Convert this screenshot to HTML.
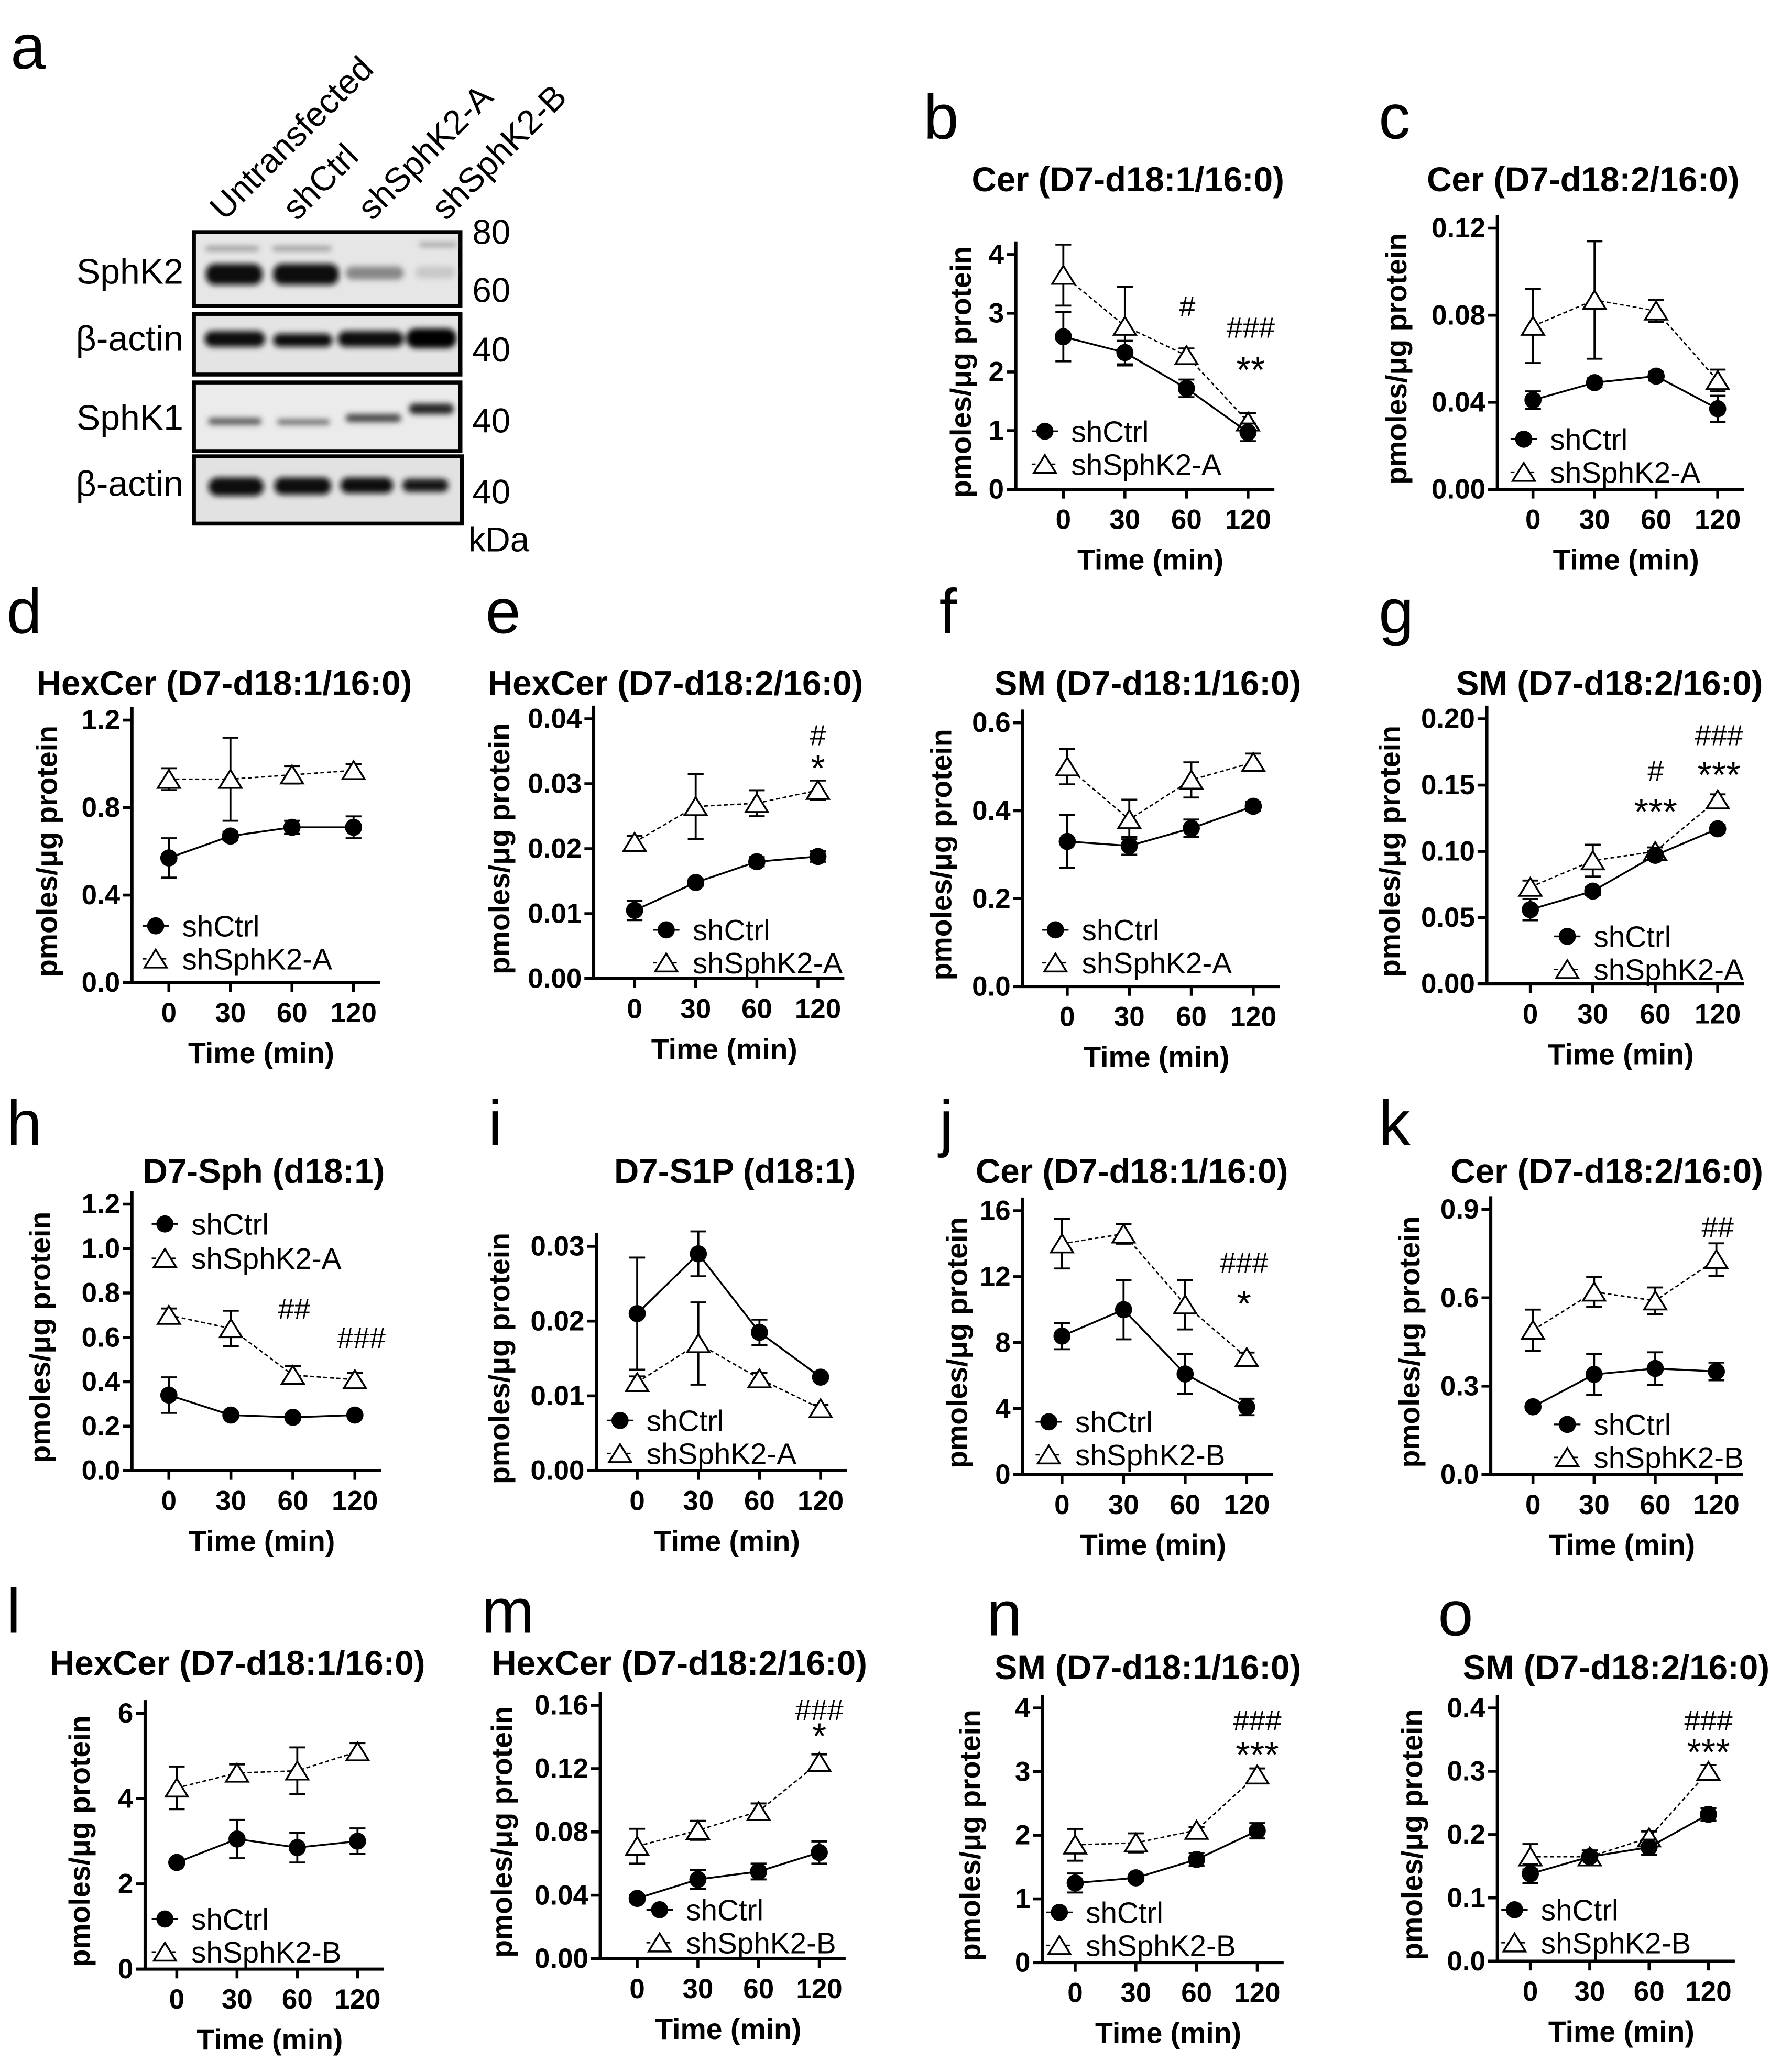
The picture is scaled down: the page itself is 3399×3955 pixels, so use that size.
<!DOCTYPE html>
<html><head><meta charset="utf-8"><style>
html,body{margin:0;padding:0;background:#fff}
svg{display:block}
text{font-family:"Liberation Sans",Arial,sans-serif;fill:#000}
.b{font-weight:bold}
</style></head><body>
<svg id="fig" xmlns="http://www.w3.org/2000/svg" width="3399" height="3955" viewBox="0 0 1350 1571" preserveAspectRatio="none">
<defs>
<filter id="blur" x="-20%" y="-100%" width="140%" height="300%"><feGaussianBlur stdDeviation="2.2"/></filter>
</defs>
<g id="blot">
<text x="8" y="52" font-size="48">a</text>
<g font-size="26">
<text transform="translate(170,168) rotate(-45)">Untransfected</text>
<text transform="translate(225,168) rotate(-45)">shCtrl</text>
<text transform="translate(282,168) rotate(-45)">shSphK2-A</text>
<text transform="translate(338,168) rotate(-45)">shSphK2-B</text>
</g>
<g>
<rect x="147" y="176" width="202" height="56" fill="#e6e6e6" stroke="#000" stroke-width="3"/>
<g filter="url(#blur)">
<rect x="156" y="200" width="43" height="16" rx="7" fill="#111"/>
<rect x="207" y="200" width="50" height="16" rx="7" fill="#111"/>
<rect x="262" y="202" width="44" height="10" rx="5" fill="#888"/>
<rect x="315" y="202" width="30" height="9" rx="4" fill="#c8c8c8"/>
<rect x="156" y="187" width="40" height="3" fill="#888"/>
<rect x="207" y="187" width="44" height="3" fill="#888"/>
<rect x="318" y="184" width="28" height="3" fill="#999"/>
</g></g>
<g>
<rect x="147" y="238" width="202" height="46" fill="#e4e4e4" stroke="#000" stroke-width="3"/>
<g filter="url(#blur)">
<rect x="155" y="251" width="46" height="12" rx="6" fill="#111"/>
<rect x="207" y="253" width="45" height="10" rx="5" fill="#111"/>
<rect x="256" y="251" width="50" height="12" rx="6" fill="#111"/>
<rect x="308" y="249" width="38" height="15" rx="7" fill="#000"/>
</g></g>
<g>
<rect x="147" y="290" width="202" height="52" fill="#ebebeb" stroke="#000" stroke-width="3"/>
<g filter="url(#blur)">
<rect x="158" y="317" width="40" height="5" rx="2" fill="#555"/>
<rect x="210" y="318" width="40" height="4" rx="2" fill="#666"/>
<rect x="262" y="314" width="42" height="6" rx="3" fill="#444"/>
<rect x="310" y="306" width="34" height="8" rx="4" fill="#222"/>
</g></g>
<g>
<rect x="147" y="346" width="203" height="51" fill="#e2e2e2" stroke="#000" stroke-width="3"/>
<g filter="url(#blur)">
<rect x="158" y="362" width="42" height="14" rx="7" fill="#111"/>
<rect x="208" y="362" width="43" height="13" rx="6" fill="#111"/>
<rect x="258" y="362" width="40" height="12" rx="6" fill="#111"/>
<rect x="305" y="363" width="35" height="10" rx="5" fill="#151515"/>
</g></g>
<g font-size="27" text-anchor="end">
<text x="139" y="215">SphK2</text>
<text x="139" y="266">β-actin</text>
<text x="139" y="326">SphK1</text>
<text x="139" y="376">β-actin</text>
</g>
<g font-size="26">
<text x="358" y="185">80</text>
<text x="358" y="229">60</text>
<text x="358" y="274">40</text>
<text x="358" y="328">40</text>
<text x="358" y="382">40</text>
<text x="355" y="418">kDa</text>
</g>
</g>
<g id="charts"></g>
</svg>
<script>
const timeCats = ["0","30","60","120"];
const bCtrl=[2.6,2.33,1.72,0.97], bCtrlErr=[0.42,0.2,0.15,0.15], bA=[3.65,2.78,2.28,1.15], bAErr=[0.52,0.67,0.12,0.15];
const cCtrl=[0.041,0.049,0.052,0.037], cCtrlErr=[0.004,0.002,0.002,0.006], cA=[0.075,0.087,0.082,0.05], cAErr=[0.017,0.027,0.005,0.005];
const dCtrl=[0.57,0.67,0.71,0.71], dCtrlErr=[0.09,0.02,0.03,0.05], dA=[0.93,0.93,0.95,0.97], dAErr=[0.05,0.19,0.04,0.03];
const eCtrl=[0.0105,0.0148,0.018,0.0188], eCtrlErr=[0.0015,0.0005,0.0007,0.0008], eA=[0.021,0.0265,0.027,0.029], eAErr=[0.001,0.005,0.002,0.0015];
const fCtrl=[0.33,0.32,0.36,0.41], fCtrlErr=[0.06,0.02,0.02,0.01], fA=[0.5,0.38,0.47,0.51], fAErr=[0.04,0.045,0.04,0.02];
const gCtrl=[0.056,0.07,0.097,0.117], gCtrlErr=[0.008,0.003,0.003,0.003], gA=[0.073,0.093,0.1,0.139], gAErr=[0.005,0.012,0.003,0.004];
const hCtrl=[0.34,0.25,0.24,0.25], hCtrlErr=[0.08,0.01,0.01,0.01], hA=[0.7,0.64,0.43,0.41], hAErr=[0.03,0.08,0.04,0.03];
const iCtrl=[0.021,0.029,0.0185,0.0125], iCtrlErr=[0.0075,0.003,0.0017,0.0005], iA=[0.0118,0.017,0.0123,0.0083], iAErr=[0.0008,0.0055,0.0008,0.0005];
const jCtrl=[8.4,10,6.1,4.1], jCtrlErr=[0.8,1.8,1.2,0.5], jA=[14,14.6,10.3,7.1], jAErr=[1.5,0.6,1.5,0.3];
const kCtrl=[0.23,0.34,0.36,0.35], kCtrlErr=[0.01,0.07,0.055,0.03], kA=[0.49,0.62,0.59,0.73], kAErr=[0.07,0.05,0.045,0.055];
const lCtrl=[2.5,3.05,2.85,3], lCtrlErr=[0.05,0.45,0.35,0.3], lA=[4.25,4.6,4.65,5.1], lAErr=[0.5,0.2,0.55,0.2];
const mCtrl=[0.038,0.05,0.055,0.067], mCtrlErr=[0.002,0.006,0.005,0.007], mA=[0.071,0.081,0.093,0.124], mAErr=[0.011,0.006,0.005,0.005];
const nCtrl=[1.25,1.33,1.62,2.07], nCtrlErr=[0.15,0.05,0.1,0.12], nA=[1.85,1.88,2.08,2.95], nAErr=[0.25,0.15,0.05,0.1];
const oCtrl=[0.138,0.165,0.18,0.232], oCtrlErr=[0.015,0.005,0.012,0.01], oA=[0.165,0.165,0.195,0.3], oAErr=[0.02,0.01,0.01,0.01];
const bTicks=["0","1","2","3","4"], cTicks=["0.00","0.04","0.08","0.12"], dTicks=["0.0","0.4","0.8","1.2"];
const eTicks=["0.00","0.01","0.02","0.03","0.04"], fTicks=["0.0","0.2","0.4","0.6"], gTicks=["0.00","0.05","0.10","0.15","0.20"];
const hTicks=["0.0","0.2","0.4","0.6","0.8","1.0","1.2"], iTicks=["0.00","0.01","0.02","0.03"], jTicks=["0","4","8","12","16"];
const kTicks=["0.0","0.3","0.6","0.9"], lTicks=["0","2","4","6"], mTicks=["0.00","0.04","0.08","0.12","0.16"];
const nTicks=["0","1","2","3","4"], oTicks=["0.0","0.1","0.2","0.3","0.4"];

const panels=[
{id:"b",title:"Cer (D7-d18:1/16:0)",lx:700,ly:105,ax:770,y0:371,yt:193,ticks:bTicks,xs:806,xe:946,tcx:855,tty:145,ylx:738,ctrl:bCtrl,ce:bCtrlErr,a:bA,ae:bAErr,lg:[792,327],b2:"shSphK2-A",ann:[["#",900,240],["###",948,256],["**",948,290]]},
{id:"c",title:"Cer (D7-d18:2/16:0)",lx:1045,ly:105,ax:1135,y0:371,yt:173,ticks:cTicks,xs:1162,xe:1302,tcx:1200,tty:145,ylx:1068,ctrl:cCtrl,ce:cCtrlErr,a:cA,ae:cAErr,lg:[1155,333],b2:"shSphK2-A",ann:[]},
{id:"d",title:"HexCer (D7-d18:1/16:0)",lx:5,ly:480,ax:100,y0:745,yt:546,ticks:dTicks,xs:128,xe:268,tcx:170,tty:527,ylx:45,ctrl:dCtrl,ce:dCtrlErr,a:dA,ae:dAErr,lg:[118,702],b2:"shSphK2-A",ann:[]},
{id:"e",title:"HexCer (D7-d18:2/16:0)",lx:368,ly:480,ax:450,y0:742,yt:545,ticks:eTicks,xs:481,xe:620,tcx:512,tty:527,ylx:388,ctrl:eCtrl,ce:eCtrlErr,a:eA,ae:eAErr,lg:[505,705],b2:"shSphK2-A",ann:[["#",620,565],["*",620,592]]},
{id:"f",title:"SM (D7-d18:1/16:0)",lx:712,ly:480,ax:775,y0:748,yt:548,ticks:fTicks,xs:809,xe:950,tcx:870,tty:527,ylx:723,ctrl:fCtrl,ce:fCtrlErr,a:fA,ae:fAErr,lg:[800,705],b2:"shSphK2-A",ann:[]},
{id:"g",title:"SM (D7-d18:2/16:0)",lx:1045,ly:480,ax:1127,y0:746,yt:545,ticks:gTicks,xs:1160,xe:1302,tcx:1220,tty:527,ylx:1063,ctrl:gCtrl,ce:gCtrlErr,a:gA,ae:gAErr,lg:[1188,710],b2:"shSphK2-A",ann:[["#",1255,592],["***",1255,625],["###",1303,565],["***",1303,597]]},
{id:"h",title:"D7-Sph (d18:1)",lx:5,ly:868,ax:100,y0:1115,yt:913,ticks:hTicks,xs:128,xe:269,tcx:200,tty:897,ylx:40,ctrl:hCtrl,ce:hCtrlErr,a:hA,ae:hAErr,lg:[125,928],b2:"shSphK2-A",ann:[["##",223,1000],["###",274,1022]]},
{id:"i",title:"D7-S1P (d18:1)",lx:370,ly:868,ax:452,y0:1115,yt:945,ticks:iTicks,xs:483,xe:622,tcx:557,tty:897,ylx:388,ctrl:iCtrl,ce:iCtrlErr,a:iA,ae:iAErr,lg:[470,1077],b2:"shSphK2-A",ann:[]},
{id:"j",title:"Cer (D7-d18:1/16:0)",lx:712,ly:868,ax:775,y0:1118,yt:918,ticks:jTicks,xs:805,xe:945,tcx:858,tty:897,ylx:735,ctrl:jCtrl,ce:jCtrlErr,a:jA,ae:jAErr,lg:[795,1078],b2:"shSphK2-B",ann:[["###",943,965],["*",943,998]]},
{id:"k",title:"Cer (D7-d18:2/16:0)",lx:1045,ly:868,ax:1130,y0:1118,yt:917,ticks:kTicks,xs:1162,xe:1301,tcx:1218,tty:897,ylx:1078,ctrl:kCtrl,ce:kCtrlErr,a:kA,ae:kAErr,lg:[1188,1080],b2:"shSphK2-B",ann:[["##",1302,938]]},
{id:"l",title:"HexCer (D7-d18:1/16:0)",lx:5,ly:1238,ax:110,y0:1493,yt:1299,ticks:lTicks,xs:134,xe:271,tcx:180,tty:1270,ylx:70,ctrl:lCtrl,ce:lCtrlErr,a:lA,ae:lAErr,lg:[125,1455],b2:"shSphK2-B",ann:[]},
{id:"m",title:"HexCer (D7-d18:2/16:0)",lx:365,ly:1238,ax:455,y0:1485,yt:1293,ticks:mTicks,xs:483,xe:621,tcx:515,tty:1270,ylx:390,ctrl:mCtrl,ce:mCtrlErr,a:mA,ae:mAErr,lg:[500,1448],b2:"shSphK2-B",ann:[["###",621,1304],["*",621,1326]]},
{id:"n",title:"SM (D7-d18:1/16:0)",lx:748,ly:1240,ax:790,y0:1488,yt:1295,ticks:nTicks,xs:815,xe:953,tcx:870,tty:1273,ylx:745,ctrl:nCtrl,ce:nCtrlErr,a:nA,ae:nAErr,lg:[803,1450],b2:"shSphK2-B",ann:[["###",953,1312],["***",953,1340]]},
{id:"o",title:"SM (D7-d18:2/16:0)",lx:1090,ly:1240,ax:1135,y0:1487,yt:1295,ticks:oTicks,xs:1160,xe:1295,tcx:1225,tty:1273,ylx:1080,ctrl:oCtrl,ce:oCtrlErr,a:oA,ae:oAErr,lg:[1148,1448],b2:"shSphK2-B",ann:[["###",1295,1312],["***",1295,1338]]}
];
const NS="http://www.w3.org/2000/svg";
const root=document.getElementById("charts");
function mk(tag,attrs,parent){const e=document.createElementNS(NS,tag);for(const k in attrs)e.setAttribute(k,attrs[k]);parent.appendChild(e);return e;}
function tri(g,x,y,s){return mk("polygon",{points:`${x},${y-s} ${x-s*1.05},${y+s*0.7} ${x+s*1.05},${y+s*0.7}`,fill:"#fff",stroke:"#000","stroke-width":1.4},g);}
panels.forEach(p=>{
  const g=mk("g",{},root);
  
  
  const tv=p.ticks.map(Number), tmax=tv[tv.length-1];
  const yS=v=>p.y0-(v/tmax)*(p.y0-p.yt);
  const step=(p.xe-p.xs)/(timeCats.length-1);
  const xS=i=>p.xs+i*step;
  const L=mk("text",{x:p.lx,y:p.ly,"font-size":48},g); L.textContent=p.id;
   
  const T=mk("text",{x:p.tcx,y:p.tty,"font-size":26,"text-anchor":"middle",class:"b"},g); T.textContent=p.title;
   
  const top=p.yt-10, right=p.xe+20;
  const ya=mk("line",{x1:p.ax,y1:top,x2:p.ax,y2:p.y0,stroke:"#000","stroke-width":2.4},g);
   
  const xa=mk("line",{x1:p.ax-7,y1:p.y0,x2:right,y2:p.y0,stroke:"#000","stroke-width":2.4},g);
   
  p.ticks.forEach((t,k)=>{const y=yS(tv[k]);
    mk("line",{x1:p.ax-7,y1:y,x2:p.ax,y2:y,stroke:"#000","stroke-width":2.2},g);
    const tl=mk("text",{x:p.ax-9,y:y+7,"font-size":21,"text-anchor":"end",class:"b"},g); tl.textContent=t;
     });
  timeCats.forEach((c,i)=>{const x=xS(i);
    mk("line",{x1:x,y1:p.y0,x2:x,y2:p.y0+7,stroke:"#000","stroke-width":2.2},g);
    const tl=mk("text",{x:x,y:p.y0+30,"font-size":21,"text-anchor":"middle",class:"b"},g); tl.textContent=c;
     });
  const xt=mk("text",{x:(p.ax+right)/2+4,y:p.y0+61,"font-size":22,"text-anchor":"middle",class:"b"},g); xt.textContent="Time (min)";
   
  const ymid=(p.y0+p.yt)/2;
  const yt=mk("text",{x:p.ylx-2,y:ymid,"font-size":22,"text-anchor":"middle",class:"b",transform:`rotate(-90 ${p.ylx-2} ${ymid})`},g); yt.textContent="pmoles/\u03bcg protein";
   
  [[p.a,p.ae,"A"],[p.ctrl,p.ce,"C"]].forEach(([vals,errs,kind])=>{
    const sg=mk("g",{},g);
    
    
    const pts=vals.map((v,i)=>xS(i)+","+yS(v)).join(" ");
    const ln=mk("polyline",{points:pts,fill:"none",stroke:"#000","stroke-width":kind==="C"?1.4:1.1},sg);
    if(kind==="A") ln.setAttribute("stroke-dasharray","3,2");
    vals.forEach((v,i)=>{const x=xS(i),y1=yS(v+errs[i]),y2=yS(Math.max(0,v-errs[i]));
      mk("line",{x1:x,y1:y1,x2:x,y2:y2,stroke:"#000","stroke-width":1.5},sg);
      mk("line",{x1:x-6,y1:y1,x2:x+6,y2:y1,stroke:"#000","stroke-width":1.5},sg);
      mk("line",{x1:x-6,y1:y2,x2:x+6,y2:y2,stroke:"#000","stroke-width":1.5},sg);
    });
    vals.forEach((v,i)=>{const x=xS(i),y=yS(v);
      const m = kind==="C"? mk("circle",{cx:x,cy:y,r:6.5,fill:"#000"},sg) : tri(sg,x,y+1,8);
      
      
    });
  });
  const lg=mk("g",{},g);
   
  const [lx,ly]=p.lg, gap=(p.id==="h")?26:25;
  mk("line",{x1:lx-10,y1:ly,x2:lx+10,y2:ly,stroke:"#000","stroke-width":1.3},lg);
  mk("circle",{cx:lx,cy:ly,r:6.5,fill:"#000"},lg);
  const t1=mk("text",{x:lx+20,y:ly+8,"font-size":22.5},lg); t1.textContent="shCtrl";
   
  mk("line",{x1:lx-10,y1:ly+gap,x2:lx+10,y2:ly+gap,stroke:"#000","stroke-width":1.1,"stroke-dasharray":"3,2"},lg);
  tri(lg,lx,ly+gap+1,8);
  const t2=mk("text",{x:lx+20,y:ly+gap+8,"font-size":22.5},lg); t2.textContent=p.b2;
   
  p.ann.forEach(a=>{const t=mk("text",{x:a[1],y:a[2],"font-size":a[0].indexOf("*")>=0?28:22,"text-anchor":"middle"},g); t.textContent=a[0];
     });
});
</script>
</body></html>
